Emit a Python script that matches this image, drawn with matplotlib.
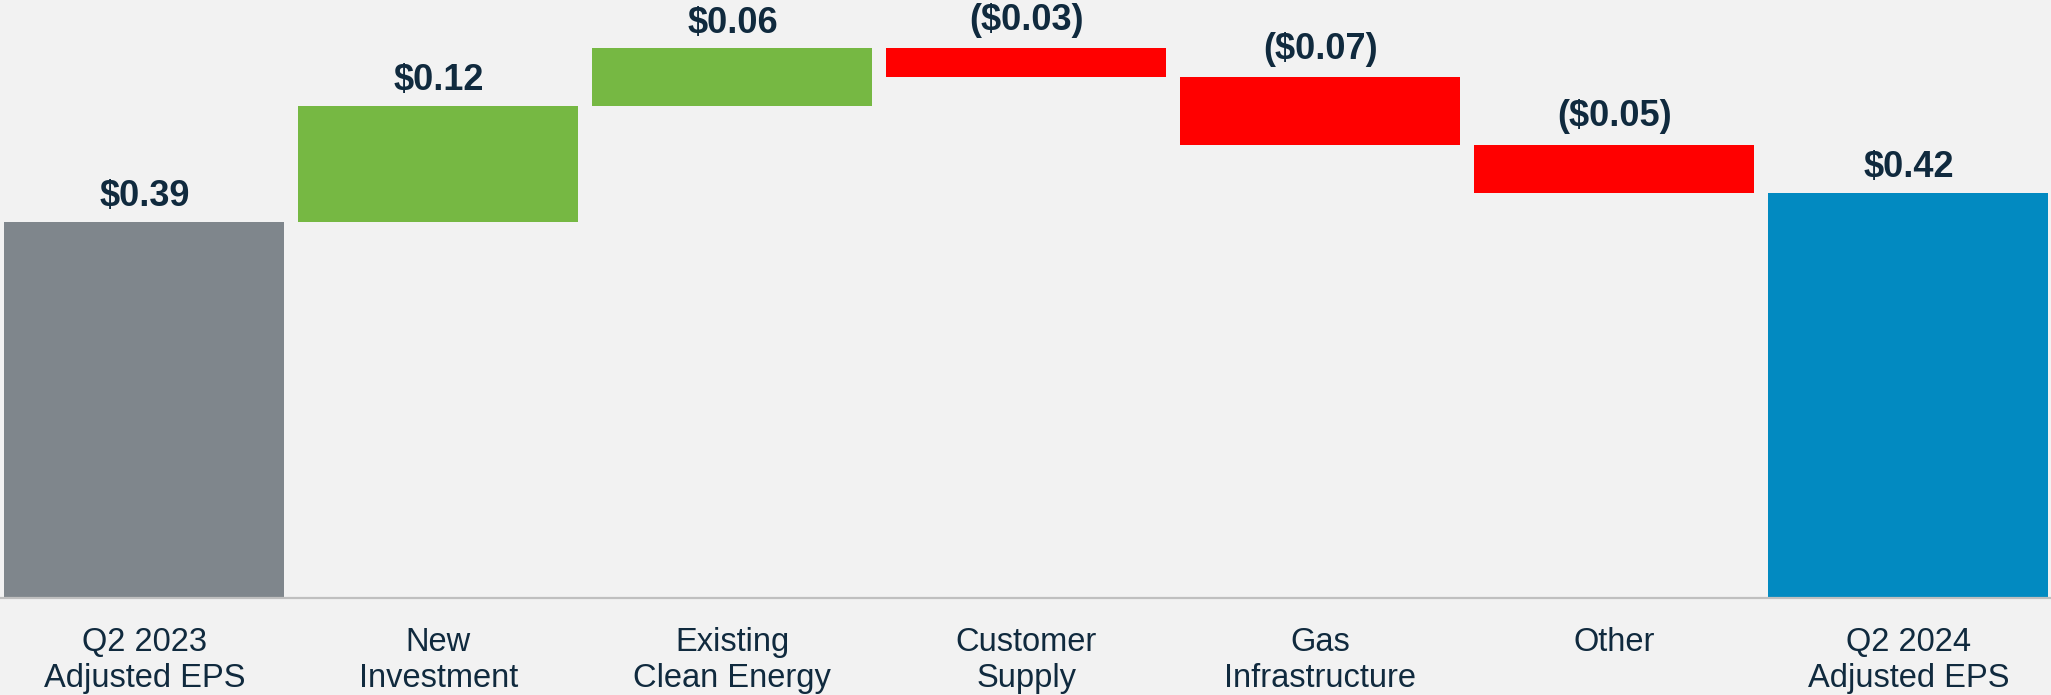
import matplotlib
matplotlib.use("Agg")
import matplotlib.pyplot as plt

# Earnings bridge, Q2 2023 -> Q2 2024 adjusted EPS
categories = ["Q2 2023\nAdjusted EPS", "New\nInvestment", "Existing\nClean Energy",
              "Customer\nSupply", "Gas\nInfrastructure", "Other", "Q2 2024\nAdjusted EPS"]
start_eps = 0.39
changes = [0.12, 0.06, -0.03, -0.07, -0.05]
end_eps = 0.42
value_labels = ["$0.39", "$0.12", "$0.06", "($0.03)", "($0.07)", "($0.05)", "$0.42"]

GRAY = "#7f868c"
GREEN = "#76b843"
RED = "#ff0000"
BLUE = "#028ac1"
TEXT = "#102a3e"
BG = "#f2f2f2"

plt.rcParams["font.family"] = ["Liberation Sans", "DejaVu Sans"]

fig = plt.figure(figsize=(20.51, 6.95), dpi=100, facecolor=BG)
ax = fig.add_axes([0, 0, 1, 1], facecolor=BG)

# build waterfall bottoms / heights
bottoms, heights, colors = [0.0], [start_eps], [GRAY]
running = start_eps
for c in changes:
    if c >= 0:
        bottoms.append(running)
        heights.append(c)
        colors.append(GREEN)
    else:
        bottoms.append(running + c)
        heights.append(-c)
        colors.append(RED)
    running += c
bottoms.append(0.0)
heights.append(end_eps)
colors.append(BLUE)

x = list(range(len(categories)))
ax.bar(x, heights, bottom=bottoms, width=0.952, color=colors, linewidth=0)

# value labels above each bar
for i in x:
    top = bottoms[i] + heights[i]
    off = 11.5 if not value_labels[i].startswith("(") else 13.5
    ax.annotate(value_labels[i], (i, top), xytext=(0, off), textcoords="offset points",
                ha="center", va="baseline", fontsize=26, fontweight="bold", color=TEXT)

# category labels under the baseline
for i, lab in enumerate(categories):
    ax.annotate(lab, (i, 0), xytext=(0, -21), textcoords="offset points",
                ha="center", va="top", fontsize=23.5, color=TEXT, linespacing=1.2)

ax.axhline(0, color="#bfbfbf", linewidth=1.6)

ax.set_xlim(-0.491, 6.485)
ax.set_ylim(-0.1006, 0.6203)
ax.axis("off")

fig.savefig("out.png", dpi=100, facecolor=BG)
